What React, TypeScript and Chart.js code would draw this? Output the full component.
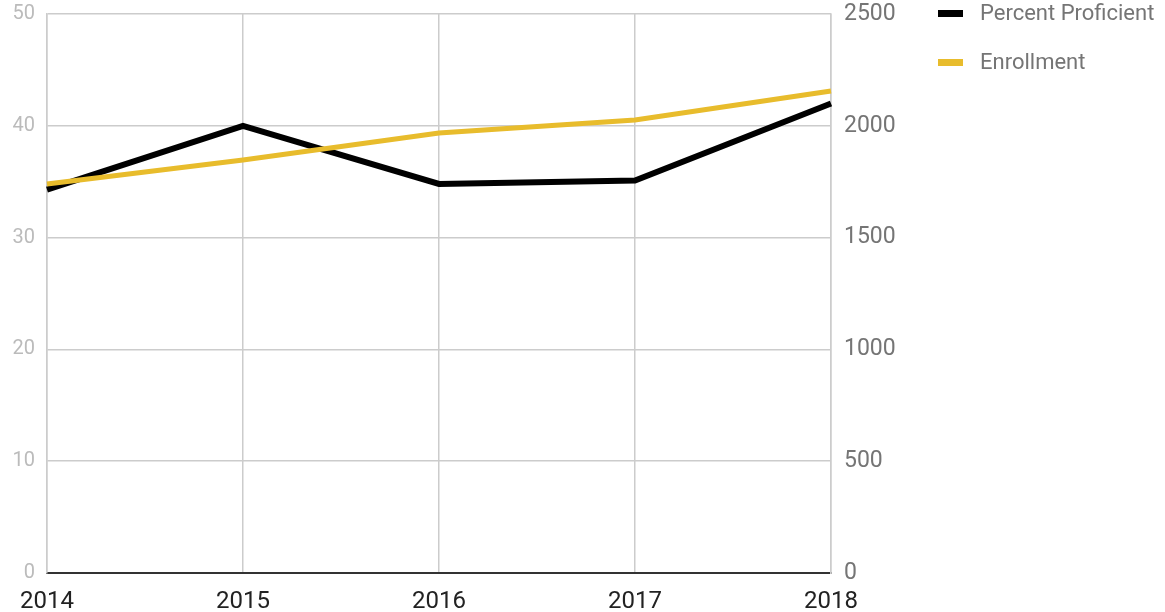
import React, { useEffect, useRef } from "react";
import { Chart, registerables } from "chart.js";

Chart.register(...registerables);

const years = ["2014", "2015", "2016", "2017", "2018"];
const percentProficient = [34.3, 40, 34.8, 35.1, 42];
const enrollment = [1740, 1847, 1968, 2026, 2156];
const seriesNames = ["Percent Proficient", "Enrollment"];
const seriesColors = ["#000000", "#E8BC2C"];

const FONT = "Roboto, 'Noto Sans', sans-serif";

const legendPlugin = {
  id: "customLegend",
  afterDraw(chart: any) {
    const ctx = chart.ctx;
    ctx.save();
    chart.data.datasets.forEach((ds: any, i: number) => {
      const cy = 13.5 + i * 49;
      ctx.fillStyle = ds.borderColor;
      ctx.fillRect(938, cy - 3.5, 25, 7);
      ctx.fillStyle = "#757575";
      ctx.font = `22px ${FONT}`;
      ctx.textBaseline = "middle";
      ctx.textAlign = "left";
      ctx.fillText(ds.label, 980, cy + 1);
    });
    ctx.restore();
  },
};

export default function App() {
  const ref = useRef<HTMLCanvasElement>(null);
  useEffect(() => {
    document.body.style.margin = "0";
    const chart = new Chart(ref.current!, {
      type: "line",
      data: {
        labels: years,
        datasets: [
          {
            label: seriesNames[0],
            data: percentProficient,
            borderColor: seriesColors[0],
            backgroundColor: seriesColors[0],
            borderWidth: 6,
            pointRadius: 0,
            tension: 0,
            yAxisID: "y",
            order: 1,
          },
          {
            label: seriesNames[1],
            data: enrollment,
            borderColor: seriesColors[1],
            backgroundColor: seriesColors[1],
            borderWidth: 5,
            pointRadius: 0,
            tension: 0,
            yAxisID: "y1",
            order: 0,
          },
        ],
      },
      options: {
        responsive: false,
        animation: false,
        layout: { padding: { top: 14, right: 0, left: 0, bottom: 0 } },
        plugins: {
          legend: { display: false },
          tooltip: { enabled: false },
        },
        scales: {
          x: {
            offset: false,
            grid: { color: "#cccccc", lineWidth: 1.5, drawTicks: false },
            border: { color: "#333333", width: 2 },
            ticks: {
              color: "#222222",
              font: { family: FONT, size: 24 },
              padding: 15,
              maxRotation: 0,
              autoSkip: false,
            },
            afterFit(scale: any) {
              scale.height = 39;
              scale.paddingLeft = 0;
              scale.paddingRight = 0;
            },
          },
          y: {
            position: "left",
            min: 0,
            max: 50,
            ticks: {
              stepSize: 10,
              color: "#bbbbbb",
              font: { family: FONT, size: 20 },
              padding: 12,
            },
            grid: {
              color: (c: any) => (c.tick && c.tick.value === 0 ? "rgba(0,0,0,0)" : "#cccccc"),
              lineWidth: 1.5,
              drawTicks: false,
            },
            border: { color: "#cccccc", width: 1.5 },
            afterFit(scale: any) {
              scale.width = 47;
              scale.paddingTop = 0;
              scale.paddingBottom = 0;
            },
          },
          y1: {
            position: "right",
            min: 0,
            max: 2500,
            ticks: {
              stepSize: 500,
              color: "#757575",
              font: { family: FONT, size: 23 },
              padding: 13,
              callback: (v: any) => String(v),
            },
            grid: { display: false, drawTicks: false },
            border: { color: "#cccccc", width: 1.5 },
            afterFit(scale: any) {
              scale.width = 334;
              scale.paddingTop = 0;
              scale.paddingBottom = 0;
            },
          },
        },
      },
      plugins: [legendPlugin],
    });
    return () => chart.destroy();
  }, []);
  return (
    <div style={{ position: "absolute", left: 0, top: 0, width: 1165, height: 612 }}>
      <canvas ref={ref} width={1165} height={612} />
    </div>
  );
}
